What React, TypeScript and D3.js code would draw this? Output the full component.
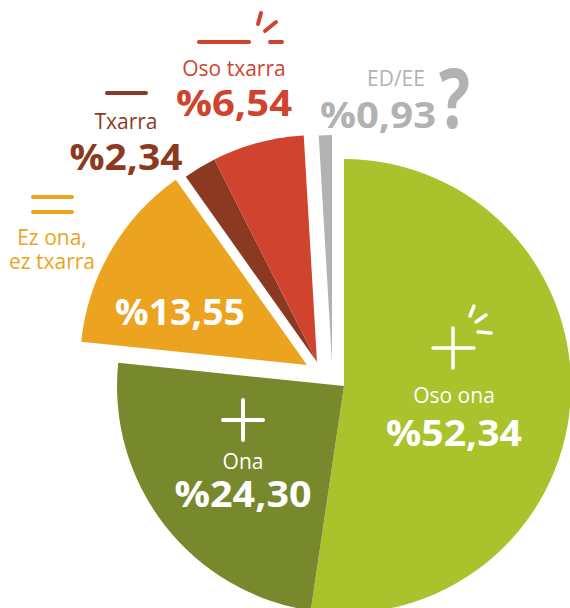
import React, { useEffect, useRef } from 'react';
import * as d3 from 'd3';

const categories = ['Oso ona', 'Ona', 'Ez ona, ez txarra', 'Txarra', 'Oso txarra', 'ED/EE'];
const values = [52.34, 24.3, 13.55, 2.34, 6.54, 0.93];
const colors = ['#aac22b', '#78882c', '#eca420', '#8b3a21', '#d0432f', '#b2b2b2'];

interface Slice {
  name: string;
  value: number;
  color: string;
}

// manual explode offsets per slice (dx, dy)
const offsets: [number, number][] = [[0, 0], [0, 0], [-37, -21], [-27, -24], [-27, -24], [-12, -24]];

// label layout: x center, baseline of name, baseline of percent, text colour, percent width
const labelLayout = [
  { x: 454, name: 403, pct: 446, fill: '#fff', len: 136 },
  { x: 243, name: 469, pct: 507, fill: '#fff', len: 137 },
  { x: 52, name: 245, pct: 325, fill: '#eca420', len: 130, pctX: 180, pctFill: '#fff' },
  { x: 126, name: 129, pct: 170, fill: '#8b3a21', len: 113 },
  { x: 234, name: 76, pct: 116, fill: '#d0432f', len: 116 },
  { x: 396, name: 86, pct: 128, fill: '#b2b2b2', len: 116, pctX: 378 },
];

const fmt = (v: number) => '%' + v.toFixed(2).replace('.', ',');

const App: React.FC = () => {
  const svgRef = useRef<SVGSVGElement>(null);

  useEffect(() => {
    const data: Slice[] = categories.map((c, i) => ({ name: c, value: values[i], color: colors[i] }));

    const W = 570;
    const H = 608;
    const cx = 344;
    const cy = 386;
    const radius = 227;

    const svg = d3.select(svgRef.current);
    svg.selectAll('*').remove();
    svg.attr('width', W).attr('height', H);

    const pie = d3.pie<Slice>().value(d => d.value).sort(null);
    const arc = d3.arc<d3.PieArcDatum<Slice>>().innerRadius(0).outerRadius(radius);

    const g = svg.append('g').attr('transform', `translate(${cx},${cy})`);

    g.selectAll('path.slice')
      .data(pie(data))
      .enter()
      .append('path')
      .attr('class', 'slice')
      .attr('transform', (d, i) => `translate(${offsets[i][0]},${offsets[i][1]})`)
      .attr('d', arc)
      .attr('fill', d => d.data.color);

    const font = "'Open Sans', sans-serif";

    // category names and percentages
    data.forEach((d, i) => {
      const l = labelLayout[i];
      const nameText = svg.append('text')
        .attr('x', l.x)
        .attr('y', l.name)
        .attr('text-anchor', 'middle')
        .style('font-family', font)
        .style('font-size', '21px')
        .style('fill', l.fill);
      const parts = d.name.includes(', ') ? [d.name.split(', ')[0] + ',', d.name.split(', ')[1]] : [d.name];
      parts.forEach((p, k) => {
        nameText.append('tspan')
          .attr('x', l.x)
          .attr('dy', k === 0 ? 0 : 24)
          .text(p);
      });

      svg.append('text')
        .attr('x', (l.pctX ?? l.x) - l.len / 2)
        .attr('y', l.pct)
        .attr('textLength', l.len)
        .attr('lengthAdjust', 'spacingAndGlyphs')
        .style('font-family', font)
        .style('font-size', '35px')
        .style('font-weight', 700)
        .style('fill', l.pctFill ?? l.fill)
        .text(fmt(d.value));
    });

    // question mark next to ED/EE
    svg.append('text')
      .attr('x', 439)
      .attr('y', 128)
      .attr('textLength', 31)
      .attr('lengthAdjust', 'spacingAndGlyphs')
      .style('font-family', font)
      .style('font-size', '82px')
      .style('font-weight', 700)
      .style('fill', '#b2b2b2')
      .text('?');

    // decorative strokes
    const stroke = (pts: [number, number, number, number][], color: string, w: number) => {
      pts.forEach(p => {
        svg.append('line')
          .attr('x1', p[0]).attr('y1', p[1])
          .attr('x2', p[2]).attr('y2', p[3])
          .attr('stroke', color)
          .attr('stroke-width', w)
          .attr('stroke-linecap', 'round');
      });
    };

    // = sign for Ez ona
    stroke([[33, 197, 72, 197], [33, 212, 72, 212]], '#eca420', 4);
    // - for Txarra
    stroke([[107, 93, 146, 93]], '#8b3a21', 4);
    // - with sparks for Oso txarra
    stroke([[199, 42, 249, 42], [270, 42, 282, 42], [276, 22, 265, 31], [261, 13, 258, 24]], '#d0432f', 4);
    // + for Ona
    stroke([[223, 420, 263, 420], [243, 400, 243, 440]], '#fff', 4);
    // + with sparks for Oso ona
    stroke([[433, 348, 474, 348], [453, 328, 453, 368], [478, 332, 491, 333], [486, 315, 476, 322], [474, 306, 470, 316]], '#fff', 3.5);
  }, []);

  return (
    <svg ref={svgRef} style={{ position: 'absolute', left: 0, top: 0, background: '#fff' }}></svg>
  );
};

export default App;
